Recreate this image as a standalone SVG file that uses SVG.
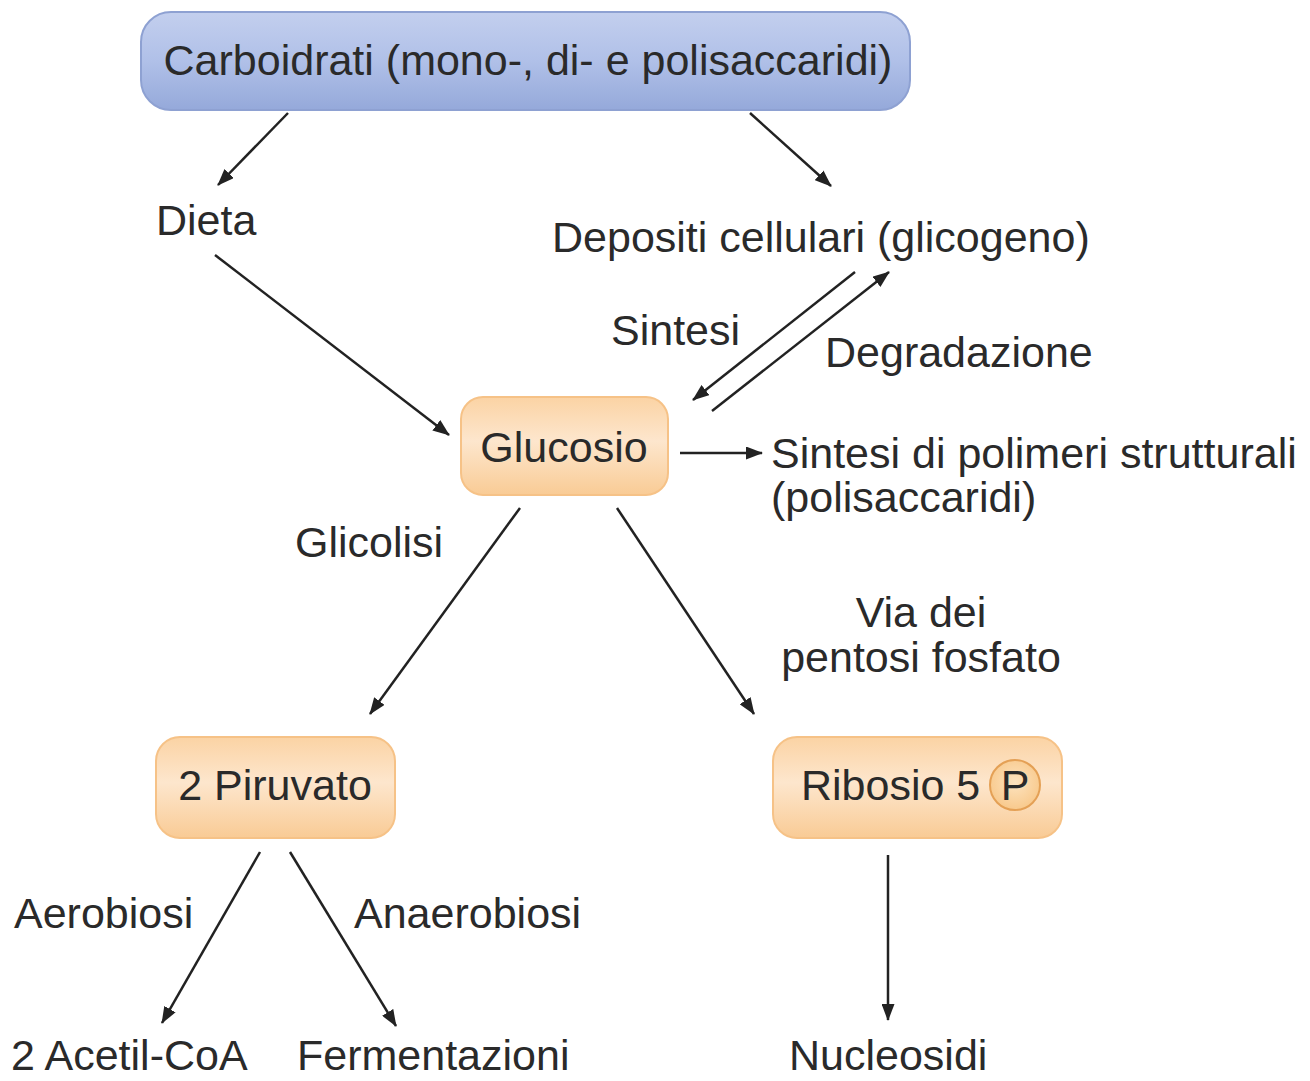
<svg xmlns="http://www.w3.org/2000/svg" width="1310" height="1081" viewBox="0 0 1310 1081">
<defs>
<linearGradient id="blue" x1="0" y1="0" x2="0" y2="1">
<stop offset="0" stop-color="#c3cfee"/>
<stop offset="0.5" stop-color="#b0c0e8"/>
<stop offset="1" stop-color="#95a9da"/>
</linearGradient>
<linearGradient id="peach" x1="0" y1="0" x2="0" y2="1">
<stop offset="0" stop-color="#fbd3a4"/>
<stop offset="0.45" stop-color="#fde6cd"/>
<stop offset="1" stop-color="#f9cb95"/>
</linearGradient>
<radialGradient id="pc" cx="0.5" cy="0.45" r="0.55">
<stop offset="0" stop-color="#fde3bf"/>
<stop offset="1" stop-color="#f8c98c"/>
</radialGradient>
<marker id="ah" markerUnits="userSpaceOnUse" markerWidth="17" markerHeight="13" viewBox="0 0 17 13" refX="16" refY="6.5" orient="auto">
<path d="M0,0 L17,6.5 L0,13 z" fill="#222"/>
</marker>
</defs>
<style>
text{font-family:"Liberation Sans",Arial,sans-serif;font-size:43px;fill:#2a2a2a}
.peach{fill:url(#peach);stroke:#f6c287;stroke-width:2}
.conn line{stroke:#222;stroke-width:2.5;marker-end:url(#ah)}
</style>
<rect width="1310" height="1081" fill="#ffffff"/>
<g id="carboidrati">
<rect x="141" y="12" width="769" height="98" rx="30" fill="url(#blue)" stroke="#8ea1d2" stroke-width="2"/>
<text x="528" y="75" text-anchor="middle">Carboidrati (mono-, di- e polisaccaridi)</text>
</g>
<g id="dieta"><text x="156" y="235">Dieta</text></g>
<g id="depositi"><text x="552" y="252">Depositi cellulari (glicogeno)</text></g>
<g id="sintesi-label"><text x="611" y="345">Sintesi</text></g>
<g id="degradazione-label"><text x="825" y="367">Degradazione</text></g>
<g id="glucosio">
<rect x="461" y="397" width="207" height="98" rx="22" class="peach"/>
<text x="564" y="462" text-anchor="middle">Glucosio</text>
</g>
<g id="polimeri">
<text x="771" y="468">Sintesi di polimeri strutturali</text>
<text x="771" y="512">(polisaccaridi)</text>
</g>
<g id="glicolisi-label"><text x="295" y="557">Glicolisi</text></g>
<g id="pentosi-label">
<text x="921" y="627" text-anchor="middle">Via dei</text>
<text x="921" y="672" text-anchor="middle">pentosi fosfato</text>
</g>
<g id="piruvato">
<rect x="156" y="737" width="239" height="101" rx="24" class="peach"/>
<text x="275" y="800" text-anchor="middle">2 Piruvato</text>
</g>
<g id="ribosio">
<rect x="773" y="737" width="289" height="101" rx="24" class="peach"/>
<text x="801" y="800">Ribosio 5</text>
<circle cx="1015" cy="785" r="25" fill="url(#pc)" stroke="#e4a055" stroke-width="2"/>
<text x="1015" y="800" text-anchor="middle">P</text>
</g>
<g id="aerobiosi-label"><text x="14" y="928">Aerobiosi</text></g>
<g id="anaerobiosi-label"><text x="354" y="928">Anaerobiosi</text></g>
<g id="acetilcoa"><text x="11" y="1070">2 Acetil-CoA</text></g>
<g id="fermentazioni"><text x="297" y="1070">Fermentazioni</text></g>
<g id="nucleosidi"><text x="789" y="1070">Nucleosidi</text></g>
<g id="connectors" class="conn">
<line x1="288" y1="113" x2="218" y2="185"/>
<line x1="750" y1="113" x2="831" y2="186"/>
<line x1="215" y1="255" x2="449" y2="435"/>
<line x1="855" y1="272" x2="693" y2="400"/>
<line x1="712" y1="411" x2="889" y2="272"/>
<line x1="680" y1="453" x2="762" y2="453"/>
<line x1="520" y1="508" x2="370" y2="714"/>
<line x1="617" y1="508" x2="754" y2="714"/>
<line x1="260" y1="852" x2="162" y2="1023"/>
<line x1="290" y1="852" x2="396" y2="1026"/>
<line x1="888" y1="855" x2="888" y2="1020"/>
</g>
</svg>
